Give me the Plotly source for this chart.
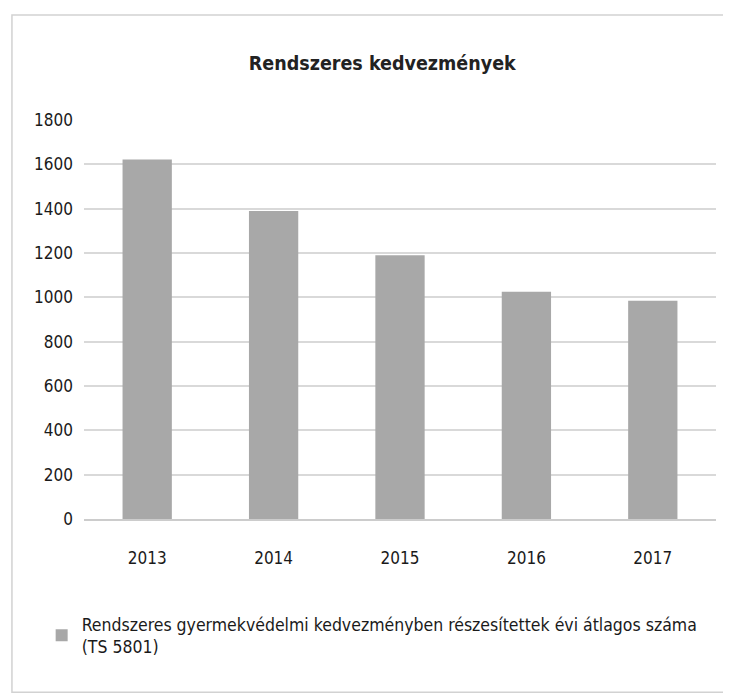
import plotly.graph_objects as go

years = ["2013", "2014", "2015", "2016", "2017"]
values = [1622, 1390, 1190, 1025, 985]
series_name = "Rendszeres gyermekvédelmi kedvezményben részesítettek évi átlagos száma<br>(TS 5801)"
title_text = "Rendszeres kedvezmények"
y_ticks = [0, 200, 400, 600, 800, 1000, 1200, 1400, 1600, 1800]

FONT = "DejaVu Sans Condensed, Liberation Sans Narrow, Roboto, sans-serif"

fig = go.Figure()
fig.add_trace(go.Bar(
    x=years, y=values, name=series_name,
    marker=dict(color="#a8a8a8", line=dict(width=0)),
    showlegend=True,
))

fig.update_layout(
    width=731, height=695,
    margin=dict(l=76, r=23, t=112, b=184, autoexpand=False),
    paper_bgcolor="white", plot_bgcolor="white",
    font=dict(family=FONT, size=17, color="#1a1a1a"),
    title=dict(text="<b>" + title_text + "</b>", x=0.512, xanchor="center",
               y=1 - 55 / 695, yanchor="middle",
               font=dict(family=FONT, size=19.5, color="#222222")),
    bargap=0.61,
    legend=dict(orientation="h", x=-0.067, xanchor="left", y=-0.218, yanchor="top",
                font=dict(family=FONT, size=17.5, color="#1a1a1a"),
                bgcolor="rgba(0,0,0,0)", itemwidth=30),
    shapes=[dict(type="rect", xref="paper", yref="paper",
                 x0=-0.114, x1=1.019, y0=-0.434, y1=1.263,
                 line=dict(color="#d2d2d2", width=1.5))],
)
fig.update_xaxes(showgrid=False, showline=True, linecolor="#cccccc", linewidth=1.5,
                 ticks="", tickfont=dict(size=17), ticklabelstandoff=23)
fig.update_yaxes(range=[0, 1800], tickvals=y_ticks, showgrid=True, gridcolor="#d9d9d9",
                 gridwidth=1.5, zeroline=False, showline=False,
                 tickfont=dict(size=17), ticklabelstandoff=10)

fig.write_html("out.html")
